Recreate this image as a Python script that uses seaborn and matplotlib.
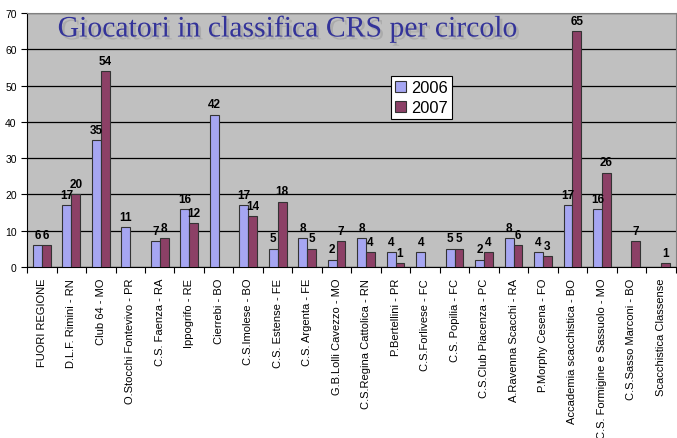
import numpy as np
import pandas as pd
import matplotlib
matplotlib.use('Agg')
import matplotlib.pyplot as plt
import matplotlib.patheffects as pe
import seaborn as sns

circoli = ['FUORI REGIONE', 'D.L.F. Rimini - RN', 'Club 64 - MO', 'O.Stocchi Fontevivo - PR',
           'C.S. Faenza - RA', 'Ippogrifo - RE', 'Cierrebi - BO', 'C.S.Imolese - BO',
           'C.S. Estense - FE', 'C.S. Argenta - FE', 'G.B.Lolli Cavezzo - MO',
           'C.S.Regina Cattolica - RN', 'P.Bertellini - PR', 'C.S.Forlivese - FC',
           'C.S. Popilia - FC', 'C.S.Club Piacenza - PC', 'A.Ravenna Scacchi - RA',
           'P.Morphy Cesena - FO', 'Accademia scacchistica - BO',
           'C.S. Formigine e Sassuolo - MO', 'C.S.Sasso Marconi - BO', 'Scacchistica Classense']
g2006 = [6, 17, 35, 11, 7, 16, 42, 17, 5, 8, 2, 8, 4, 4, 5, 2, 8, 4, 17, 16, np.nan, np.nan]
g2007 = [6, 20, 54, np.nan, 8, 12, np.nan, 14, 18, 5, 7, 4, 1, np.nan, 5, 4, 6, 3, 65, 26, 7, 1]

df = pd.DataFrame({
    'Circolo': circoli * 2,
    'Anno': ['2006'] * len(circoli) + ['2007'] * len(circoli),
    'Giocatori': g2006 + g2007,
})

plt.rcParams['font.family'] = ['Liberation Sans', 'DejaVu Sans']

fig = plt.figure(figsize=(6.77, 4.39), dpi=100)
ax = fig.add_axes([0.040, 0.39, 0.958, 0.578])
ax.set_facecolor('#C0C0C0')

sns.barplot(data=df, x='Circolo', y='Giocatori', hue='Anno', order=circoli,
            palette={'2006': '#9999FF', '2007': '#993366'}, width=0.6,
            edgecolor='#333333', linewidth=0.8, ax=ax, zorder=3)

# etichette sopra le barre, vuote dove manca il dato
for cont in ax.containers:
    labs = []
    for b in cont:
        h = b.get_height()
        labs.append('' if (h is None or np.isnan(h) or h == 0) else '%d' % h)
    ax.bar_label(cont, labels=labs, padding=3, fontsize=8.5, fontweight='bold')

ax.set_ylim(0, 70)
ax.set_xlim(-0.5, len(circoli) - 0.5)
ax.set_yticks(range(0, 71, 10))
ax.grid(axis='y', color='black', linewidth=0.9, zorder=0)
ax.set_axisbelow(True)

ax.set_xticks(range(len(circoli)))
ax.set_xticklabels(circoli, rotation=90, fontsize=8.0)
ax.set_xticks(np.arange(-0.5, len(circoli), 1), minor=True)
ax.tick_params(axis='x', which='major', length=0, pad=8)
ax.tick_params(axis='x', which='minor', length=4, width=0.8, direction='out')
ax.tick_params(axis='y', labelsize=7.5, length=4, width=0.8)
ax.set_xlabel('')
ax.set_ylabel('')

for s in ['top', 'right']:
    ax.spines[s].set_color('#808080')
for s in ['left', 'bottom']:
    ax.spines[s].set_color('black')

ax.text(0.402, 0.937, 'Giocatori in classifica CRS per circolo', transform=ax.transAxes,
        ha='center', va='center', fontsize=21.4, color='#333399',
        family=['Liberation Serif', 'DejaVu Serif'],
        path_effects=[pe.withSimplePatchShadow(offset=(2, -2), shadow_rgbFace='#A6A6A6', alpha=0.8)])

leg = ax.legend(loc='upper left', bbox_to_anchor=(0.561, 0.752), fontsize=11.8,
                frameon=True, fancybox=False, edgecolor='black', framealpha=1,
                handlelength=0.7, handleheight=0.7, handletextpad=0.3,
                borderpad=0.25, labelspacing=0.3, borderaxespad=0)
leg.get_frame().set_linewidth(0.8)

fig.savefig('out.png', dpi=100)
